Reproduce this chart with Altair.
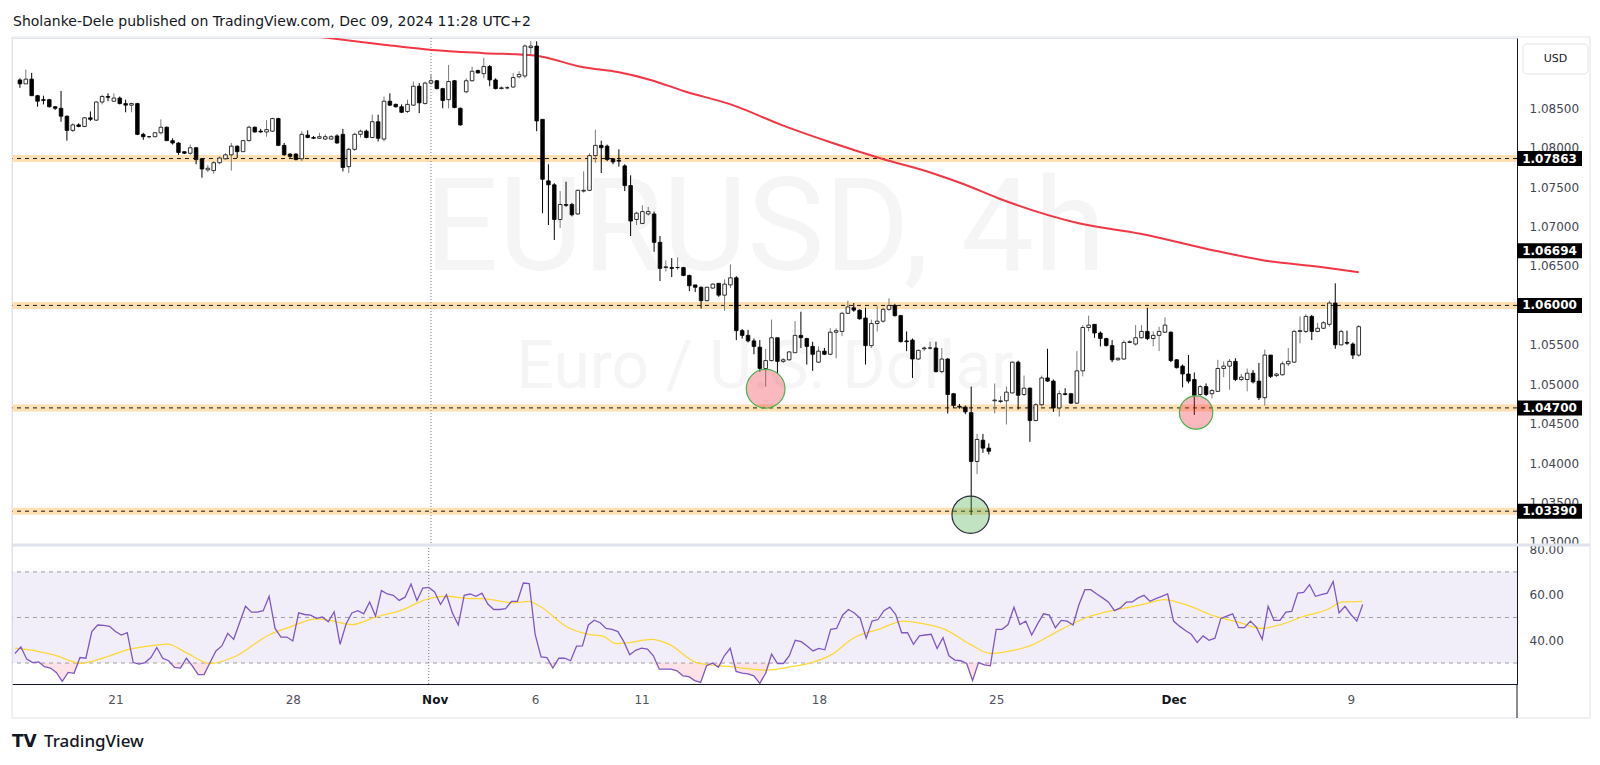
import altair as alt
import pandas as pd

# ---------------- data ----------------
opens = [1.0886, 1.0881, 1.0887, 1.0866, 1.0861, 1.0861, 1.0852, 1.0850, 1.0840, 1.0822,
         1.0829, 1.0827, 1.0838, 1.0835, 1.0858, 1.0865, 1.0859, 1.0863, 1.0856, 1.0854,
         1.0856, 1.0817, 1.0814, 1.0814, 1.0819, 1.0826, 1.0809, 1.0806, 1.0795, 1.0793,
         1.0800, 1.0786, 1.0772, 1.0771, 1.0781, 1.0786, 1.0791, 1.0802, 1.0795, 1.0809,
         1.0826, 1.0821, 1.0820, 1.0821, 1.0837, 1.0803, 1.0792, 1.0792, 1.0786, 1.0816,
         1.0813, 1.0812, 1.0811, 1.0811, 1.0815, 1.0817, 1.0776, 1.0798, 1.0817, 1.0821,
         1.0813, 1.0833, 1.0811, 1.0859, 1.0855, 1.0852, 1.0846, 1.0854, 1.0878, 1.0856,
         1.0882, 1.0885, 1.0875, 1.0861, 1.0885, 1.0850, 1.0871, 1.0885, 1.0898, 1.0894,
         1.0903, 1.0886, 1.0875, 1.0876, 1.0877, 1.0890, 1.0891, 1.0927, 1.0929, 1.0836,
         1.0758, 1.0753, 1.0709, 1.0728, 1.0728, 1.0716, 1.0745, 1.0746, 1.0790, 1.0803,
         1.0802, 1.0786, 1.0784, 1.0777, 1.0752, 1.0709, 1.0704, 1.0716, 1.0716, 1.0680,
         1.0648, 1.0648, 1.0648, 1.0648, 1.0638, 1.0626, 1.0623, 1.0606, 1.0622, 1.0628,
         1.0613, 1.0626, 1.0635, 1.0568, 1.0562, 1.0555, 1.0547, 1.0520, 1.0530, 1.0559,
         1.0529, 1.0531, 1.0540, 1.0562, 1.0558, 1.0548, 1.0528, 1.0542, 1.0538, 1.0566,
         1.0567, 1.0590, 1.0597, 1.0594, 1.0584, 1.0549, 1.0577, 1.0580, 1.0595, 1.0600,
         1.0587, 1.0555, 1.0556, 1.0532, 1.0545, 1.0546, 1.0546, 1.0516, 1.0532, 1.0488,
         1.0472, 1.0471, 1.0464, 1.0402, 1.0429, 1.0419, 1.0479, 1.0478, 1.0479, 1.0489,
         1.0528, 1.0487, 1.0495, 1.0454, 1.0474, 1.0508, 1.0504, 1.0470, 1.0488, 1.0488,
         1.0476, 1.0517, 1.0572, 1.0576, 1.0565, 1.0558, 1.0549, 1.0531, 1.0532, 1.0553,
         1.0551, 1.0559, 1.0567, 1.0558, 1.0562, 1.0566, 1.0566, 1.0531, 1.0523, 1.0513,
         1.0506, 1.0487, 1.0497, 1.0488, 1.0491, 1.0520, 1.0523, 1.0529, 1.0506, 1.0506,
         1.0514, 1.0504, 1.0483, 1.0537, 1.0511, 1.0512, 1.0526, 1.0528, 1.0567, 1.0567,
         1.0586, 1.0567, 1.0571, 1.0576, 1.0603, 1.0550, 1.0553, 1.0551, 1.0537]

highs = [1.0888, 1.0899, 1.0895, 1.0867, 1.0866, 1.0862, 1.0853, 1.0872, 1.0841, 1.0831,
         1.0831, 1.0839, 1.0846, 1.0859, 1.0867, 1.0869, 1.0869, 1.0865, 1.0861, 1.0857,
         1.0857, 1.0819, 1.0815, 1.0820, 1.0836, 1.0827, 1.0812, 1.0807, 1.0795, 1.0804,
         1.0801, 1.0787, 1.0778, 1.0783, 1.0789, 1.0793, 1.0806, 1.0803, 1.0810, 1.0828,
         1.0827, 1.0824, 1.0835, 1.0838, 1.0838, 1.0806, 1.0793, 1.0793, 1.0821, 1.0822,
         1.0815, 1.0819, 1.0817, 1.0816, 1.0817, 1.0824, 1.0800, 1.0819, 1.0823, 1.0823,
         1.0842, 1.0842, 1.0865, 1.0869, 1.0856, 1.0855, 1.0861, 1.0884, 1.0882, 1.0884,
         1.0893, 1.0886, 1.0876, 1.0905, 1.0886, 1.0851, 1.0888, 1.0903, 1.0899, 1.0914,
         1.0905, 1.0888, 1.0878, 1.0878, 1.0895, 1.0897, 1.0931, 1.0935, 1.0935, 1.0836,
         1.0779, 1.0755, 1.0745, 1.0757, 1.0730, 1.0747, 1.0770, 1.0793, 1.0823, 1.0809,
         1.0804, 1.0787, 1.0798, 1.0779, 1.0765, 1.0719, 1.0727, 1.0725, 1.0719, 1.0688,
         1.0657, 1.0660, 1.0661, 1.0649, 1.0639, 1.0626, 1.0624, 1.0624, 1.0628, 1.0628,
         1.0633, 1.0652, 1.0637, 1.0570, 1.0569, 1.0558, 1.0556, 1.0545, 1.0582, 1.0559,
         1.0533, 1.0542, 1.0580, 1.0592, 1.0559, 1.0554, 1.0548, 1.0546, 1.0571, 1.0571,
         1.0592, 1.0606, 1.0603, 1.0595, 1.0597, 1.0582, 1.0599, 1.0597, 1.0609, 1.0602,
         1.0588, 1.0567, 1.0558, 1.0544, 1.0548, 1.0554, 1.0554, 1.0546, 1.0533, 1.0489,
         1.0475, 1.0473, 1.0497, 1.0437, 1.0437, 1.0425, 1.0501, 1.0485, 1.0497, 1.0529,
         1.0530, 1.0511, 1.0496, 1.0476, 1.0511, 1.0545, 1.0506, 1.0492, 1.0495, 1.0489,
         1.0542, 1.0575, 1.0587, 1.0576, 1.0567, 1.0559, 1.0556, 1.0534, 1.0556, 1.0556,
         1.0575, 1.0575, 1.0597, 1.0567, 1.0573, 1.0585, 1.0567, 1.0532, 1.0525, 1.0537,
         1.0515, 1.0499, 1.0501, 1.0494, 1.0531, 1.0529, 1.0532, 1.0533, 1.0513, 1.0520,
         1.0518, 1.0527, 1.0544, 1.0537, 1.0514, 1.0529, 1.0546, 1.0569, 1.0586, 1.0589,
         1.0588, 1.0578, 1.0580, 1.0606, 1.0628, 1.0569, 1.0568, 1.0553, 1.0575]

lows = [1.0876, 1.0881, 1.0866, 1.0852, 1.0855, 1.0851, 1.0848, 1.0833, 1.0809, 1.0820,
        1.0826, 1.0826, 1.0834, 1.0834, 1.0855, 1.0859, 1.0858, 1.0855, 1.0845, 1.0845,
        1.0816, 1.0810, 1.0812, 1.0813, 1.0817, 1.0809, 1.0804, 1.0791, 1.0792, 1.0791,
        1.0779, 1.0762, 1.0769, 1.0767, 1.0779, 1.0785, 1.0771, 1.0787, 1.0795, 1.0808,
        1.0819, 1.0819, 1.0814, 1.0820, 1.0802, 1.0790, 1.0787, 1.0784, 1.0783, 1.0812,
        1.0811, 1.0811, 1.0810, 1.0810, 1.0805, 1.0770, 1.0768, 1.0796, 1.0813, 1.0812,
        1.0812, 1.0808, 1.0808, 1.0853, 1.0851, 1.0844, 1.0844, 1.0853, 1.0844, 1.0855,
        1.0880, 1.0874, 1.0850, 1.0850, 1.0850, 1.0828, 1.0869, 1.0884, 1.0894, 1.0888,
        1.0878, 1.0874, 1.0874, 1.0874, 1.0876, 1.0888, 1.0888, 1.0918, 1.0821, 1.0717,
        1.0702, 1.0683, 1.0698, 1.0725, 1.0713, 1.0715, 1.0743, 1.0745, 1.0781, 1.0768,
        1.0783, 1.0779, 1.0776, 1.0745, 1.0688, 1.0702, 1.0703, 1.0714, 1.0668, 1.0631,
        1.0643, 1.0636, 1.0645, 1.0637, 1.0618, 1.0617, 1.0596, 1.0605, 1.0621, 1.0611,
        1.0593, 1.0622, 1.0556, 1.0558, 1.0553, 1.0538, 1.0516, 1.0497, 1.0529, 1.0514,
        1.0527, 1.0530, 1.0540, 1.0546, 1.0525, 1.0517, 1.0527, 1.0537, 1.0537, 1.0533,
        1.0561, 1.0589, 1.0592, 1.0582, 1.0525, 1.0546, 1.0567, 1.0578, 1.0593, 1.0586,
        1.0553, 1.0542, 1.0508, 1.0531, 1.0542, 1.0544, 1.0515, 1.0514, 1.0463, 1.0470,
        1.0469, 1.0462, 1.0334, 1.0386, 1.0413, 1.0411, 1.0463, 1.0476, 1.0449, 1.0488,
        1.0468, 1.0485, 1.0427, 1.0453, 1.0472, 1.0503, 1.0465, 1.0459, 1.0486, 1.0475,
        1.0475, 1.0510, 1.0567, 1.0559, 1.0548, 1.0548, 1.0528, 1.0530, 1.0531, 1.0552,
        1.0549, 1.0558, 1.0556, 1.0548, 1.0542, 1.0565, 1.0528, 1.0520, 1.0496, 1.0501,
        1.0461, 1.0485, 1.0485, 1.0482, 1.0490, 1.0509, 1.0493, 1.0504, 1.0504, 1.0491,
        1.0501, 1.0480, 1.0473, 1.0508, 1.0509, 1.0511, 1.0523, 1.0527, 1.0552, 1.0565,
        1.0556, 1.0566, 1.0570, 1.0573, 1.0545, 1.0549, 1.0550, 1.0532, 1.0535]

closes = [1.0881, 1.0887, 1.0866, 1.0859, 1.0860, 1.0852, 1.0850, 1.0840, 1.0822, 1.0829,
          1.0827, 1.0838, 1.0836, 1.0858, 1.0865, 1.0864, 1.0863, 1.0856, 1.0854, 1.0856,
          1.0817, 1.0814, 1.0814, 1.0819, 1.0826, 1.0809, 1.0806, 1.0794, 1.0793, 1.0800,
          1.0785, 1.0773, 1.0774, 1.0781, 1.0787, 1.0791, 1.0802, 1.0795, 1.0809, 1.0826,
          1.0820, 1.0820, 1.0823, 1.0837, 1.0803, 1.0791, 1.0789, 1.0785, 1.0817, 1.0813,
          1.0812, 1.0814, 1.0814, 1.0814, 1.0806, 1.0775, 1.0798, 1.0817, 1.0821, 1.0813,
          1.0833, 1.0812, 1.0859, 1.0854, 1.0852, 1.0845, 1.0855, 1.0878, 1.0857, 1.0882,
          1.0885, 1.0875, 1.0860, 1.0884, 1.0851, 1.0829, 1.0885, 1.0897, 1.0895, 1.0903,
          1.0886, 1.0875, 1.0876, 1.0876, 1.0889, 1.0893, 1.0929, 1.0929, 1.0834, 1.0760,
          1.0753, 1.0709, 1.0728, 1.0727, 1.0715, 1.0746, 1.0746, 1.0790, 1.0803, 1.0800,
          1.0785, 1.0782, 1.0783, 1.0752, 1.0707, 1.0717, 1.0719, 1.0719, 1.0680, 1.0647,
          1.0649, 1.0647, 1.0648, 1.0638, 1.0625, 1.0623, 1.0606, 1.0623, 1.0627, 1.0613,
          1.0627, 1.0635, 1.0568, 1.0562, 1.0555, 1.0548, 1.0520, 1.0530, 1.0559, 1.0529,
          1.0531, 1.0541, 1.0562, 1.0559, 1.0548, 1.0538, 1.0542, 1.0538, 1.0566, 1.0568,
          1.0590, 1.0598, 1.0594, 1.0583, 1.0549, 1.0577, 1.0580, 1.0595, 1.0600, 1.0587,
          1.0554, 1.0554, 1.0532, 1.0543, 1.0546, 1.0546, 1.0516, 1.0532, 1.0487, 1.0473,
          1.0471, 1.0465, 1.0402, 1.0430, 1.0419, 1.0415, 1.0480, 1.0479, 1.0490, 1.0528,
          1.0486, 1.0495, 1.0454, 1.0474, 1.0508, 1.0504, 1.0470, 1.0488, 1.0487, 1.0476,
          1.0517, 1.0572, 1.0575, 1.0565, 1.0558, 1.0549, 1.0531, 1.0533, 1.0553, 1.0554,
          1.0559, 1.0567, 1.0558, 1.0562, 1.0567, 1.0575, 1.0530, 1.0521, 1.0513, 1.0504,
          1.0486, 1.0497, 1.0487, 1.0492, 1.0520, 1.0523, 1.0529, 1.0506, 1.0509, 1.0514,
          1.0503, 1.0483, 1.0537, 1.0510, 1.0513, 1.0526, 1.0529, 1.0567, 1.0568, 1.0586,
          1.0567, 1.0571, 1.0578, 1.0603, 1.0550, 1.0567, 1.0552, 1.0537, 1.0573]

rsi_values = [34.2, 37.1, 31.7, 30.2, 30.5, 28.4, 27.8, 25.9, 22.0, 25.9,
              25.5, 32.4, 32.1, 43.8, 46.7, 46.5, 46.1, 43.8, 42.3, 43.3,
              30.2, 29.5, 30.2, 32.4, 36.8, 32.1, 31.0, 28.1, 27.8, 32.1,
              28.8, 24.9, 24.9, 30.2, 35.3, 37.5, 43.0, 40.4, 47.7, 54.9,
              52.3, 52.3, 53.0, 59.3, 45.2, 41.4, 41.4, 39.7, 52.0, 51.3,
              51.0, 49.6, 50.2, 48.1, 52.5, 38.2, 47.0, 52.0, 53.0, 51.6,
              56.8, 50.6, 61.8, 60.3, 59.7, 57.5, 58.9, 64.7, 57.4, 62.9,
              63.2, 61.2, 55.7, 60.0, 52.0, 46.7, 59.7, 60.3, 59.3, 60.7,
              55.9, 53.5, 53.5, 53.9, 57.1, 57.1, 65.1, 64.9, 42.6, 32.7,
              32.4, 27.8, 32.1, 32.1, 31.0, 37.4, 37.5, 46.7, 48.8, 47.7,
              45.2, 44.8, 43.8, 39.4, 33.6, 35.6, 36.5, 36.1, 33.2, 27.3,
              27.3, 27.3, 26.6, 24.4, 24.0, 22.3, 21.5, 28.8, 30.0, 28.1,
              33.2, 36.5, 26.3, 25.6, 25.2, 24.4, 21.1, 25.5, 33.9, 29.8,
              29.8, 33.2, 40.0, 39.4, 37.5, 35.3, 36.4, 35.8, 44.8, 45.2,
              51.0, 53.5, 52.0, 49.6, 40.9, 48.4, 49.1, 53.0, 54.5, 51.3,
              43.3, 43.3, 38.2, 41.9, 42.3, 42.6, 36.4, 41.1, 33.2, 31.3,
              31.0, 29.8, 22.3, 30.2, 29.2, 28.8, 44.8, 44.8, 46.9, 54.5,
              46.9, 48.4, 42.3, 47.2, 51.6, 51.0, 45.5, 48.7, 48.4, 46.7,
              55.7, 62.2, 62.2, 60.3, 58.6, 56.7, 53.0, 54.2, 56.7, 56.8,
              58.6, 59.7, 57.1, 58.3, 59.3, 60.3, 48.4, 46.2, 44.3, 42.6,
              39.0, 41.9, 40.0, 40.9, 49.6, 50.6, 51.6, 45.5, 45.5, 48.4,
              45.8, 40.4, 54.9, 48.7, 48.7, 52.3, 52.7, 60.7, 61.0, 64.4,
              59.3, 60.0, 60.7, 65.8, 52.0, 54.9, 51.3, 48.4, 55.7]

# RSI-based moving average (yellow), read at sample positions (candle index, value)
ma_idx = [0, 3.5, 7, 11.1, 14.8, 19.4, 23.9, 25.8, 29.2, 33, 37.5, 42.8, 46.5, 51.1,
          53.3, 57.1, 60.9, 65.4, 70, 73, 76.8, 79, 84.3, 86.9, 88.8, 93.4, 97.1, 99.4,
          101.7, 103.9, 107.7, 110.7, 115.3, 121, 127.1, 131.4, 134.8, 138.3, 141.8,
          146.1, 150.4, 153.8, 157.3, 161.6, 165.1, 167.6, 172, 176.3, 181.5, 186.6,
          190.9, 194.4, 197.9, 203, 207.3, 210.8, 214.2, 217.7, 222, 224.6, 227.9]
ma_vals = [36.5, 35.3, 33.2, 29.9, 32.1, 36.1, 37.9, 38.3, 34.2, 29.8, 33.2, 42.1, 45.8, 49.4,
           48.7, 46.9, 50.1, 53.2, 58.3, 59.3, 58.3, 58.3, 56.4, 57.1, 54.9, 45.8, 42.6, 41.9,
           38.5, 39.0, 40.4, 38.2, 30.2, 28.4, 26.9, 28.4, 30.2, 33.9, 40.9,
           44.8, 48.4, 47.2, 44.8, 38.2, 34.2, 34.9, 37.9, 43.8, 50.2, 53.5,
           55.7, 57.8, 55.7, 50.6, 47.7, 45.2, 46.9, 50.2, 53.5, 56.8, 57.1]

# red moving average on price, read at sample positions
ema_idx = [40, 51.6, 61.6, 70.2, 79, 87.6, 96, 101.8, 107.4, 113, 121.4, 130, 138.4,
           146.8, 155.3, 161, 166.6, 180.5, 190.8, 203.8, 212.8, 221.2, 228]
ema_vals = [1.0952, 1.0940, 1.0931, 1.0924, 1.0920, 1.0917, 1.0902, 1.0896, 1.0886, 1.0872,
            1.0854, 1.0828, 1.0806, 1.0786, 1.0768, 1.0753, 1.0736, 1.0704, 1.0691, 1.0669,
            1.0656, 1.0649, 1.0642]

levels = [1.07863, 1.06000, 1.04700, 1.03390]
price_tags = [1.07863, 1.06694, 1.06000, 1.04700, 1.03390]
price_ticks = [1.030, 1.035, 1.040, 1.045, 1.050, 1.055, 1.060, 1.065, 1.070, 1.075, 1.080, 1.085]
rsi_ticks = [40, 60, 80]
rsi_bands = [70, 50, 30]

tick_idx = [17, 47, 71, 88, 106, 136, 166, 196, 226]
tick_lbl = ["21", "28", "Nov", "6", "11", "18", "25", "Dec", "9"]
month_lbls = ["Nov", "Dec"]
nov1_idx = [70]

red_circles_idx = [127.0]
red_circles_price = [1.04943]
red_circle2_idx = [200.3]
red_circle2_price = [1.04642]
green_circle_idx = [161.9]
green_circle_price = [1.03345]

title_text = "Sholanke-Dele published on TradingView.com, Dec 09, 2024 11:28 UTC+2"
wm_symbol = "EURUSD, 4h"
wm_name = "Euro / U.S. Dollar"

# ---------------- layout ----------------
W, H1, H2 = 1505, 507, 139
N = len(opens)
idx = list(range(N))

candles = pd.DataFrame({"i": idx, "open": opens, "high": highs, "low": lows, "close": closes})
rsi_df = pd.DataFrame({"i": idx, "rsi": rsi_values})
ma_df = pd.DataFrame({"i": ma_idx, "ma": ma_vals})
ema_df = pd.DataFrame({"i": ema_idx, "ema": ema_vals})
lev_df = pd.DataFrame({"level": levels})
tag_df = pd.DataFrame({"p": price_tags, "label": [f"{p:.5f}" for p in price_tags]})
one = pd.DataFrame({"t": ["USD"]})

xs = alt.Scale(domain=[-0.5, 254.1], nice=False, zero=False)
ys = alt.Scale(domain=[1.02961, 1.09392], nice=False, zero=False)
rs = alt.Scale(domain=[20.8, 81.8], nice=False, zero=False)

AX_FONT = "DejaVu Sans"
price_axis = alt.Axis(orient="right", values=price_ticks, format=".5f", title=None, grid=False,
                      ticks=False, labelPadding=12, labelFont=AX_FONT, labelFontSize=12,
                      labelColor="#434651", domainColor="#131722", domainWidth=1,
                      labelOverlap=False, labelBound=False, labelFlush=False)
rsi_axis = alt.Axis(orient="right", values=rsi_ticks, format=".2f", title=None, grid=False,
                    ticks=False, labelPadding=12, labelFont=AX_FONT, labelFontSize=12,
                    labelColor="#434651", domainColor="#131722", domainWidth=1,
                    labelOverlap=False, labelBound=False, labelFlush=False)

label_expr = " : ".join(f"datum.value == {k} ? '{l}'" for k, l in zip(tick_idx, tick_lbl)) + " : ''"
month_test = " || ".join(f"datum.value == {k}" for k, l in zip(tick_idx, tick_lbl) if l in month_lbls)
x_axis = alt.Axis(values=tick_idx, labelExpr=label_expr, title=None, grid=False, ticks=False,
                  labelPadding=10, labelFont=AX_FONT, labelFontSize=12,
                  labelColor={"condition": {"test": month_test, "value": "#131722"}, "value": "#50535E"},
                  labelFontWeight={"condition": {"test": month_test, "value": "bold"}, "value": "normal"},
                  domainColor="#131722", domainWidth=1, labelOverlap=False, labelBound=False,
                  labelFlush=False)

def XT(f):
    return alt.X(f, scale=xs, axis=None)

def YT(f):
    return alt.Y(f, scale=ys, axis=price_axis)

def XB(f):
    return alt.X(f, scale=xs, axis=x_axis)

def YB(f):
    return alt.Y(f, scale=rs, axis=rsi_axis)

# ---------------- price pane ----------------
wm1 = alt.Chart(pd.DataFrame({"i": [126.9], "p": [1.0694], "t": [wm_symbol]})).mark_text(
    font="Roboto", fontSize=130, color="#000000", opacity=0.035, align="center", baseline="middle"
).encode(x=XT("i:Q"), y=YT("p:Q"), text="t:N")
wm2 = alt.Chart(pd.DataFrame({"i": [126.9], "p": [1.0520], "t": [wm_name]})).mark_text(
    font="Roboto", fontSize=66, color="#000000", opacity=0.035, align="center", baseline="middle"
).encode(x=XT("i:Q"), y=YT("p:Q"), text="t:N")

bands = alt.Chart(lev_df).mark_rule(color="#FFE0B2", strokeWidth=7).encode(y=YT("level:Q"))
dashes = alt.Chart(lev_df).mark_rule(color="#131722", strokeWidth=1, strokeDash=[4, 4]).encode(y=YT("level:Q"))
vline_top = alt.Chart(pd.DataFrame({"i": nov1_idx})).mark_rule(
    color="#787B86", strokeWidth=1, strokeDash=[1, 2]).encode(x=XT("i:Q"))
ema = alt.Chart(ema_df).mark_line(color="#F23645", strokeWidth=2, clip=True, interpolate="monotone").encode(
    x=XT("i:Q"), y=YT("ema:Q"))
up = "datum.close >= datum.open"
wick = alt.Chart(candles).mark_rule(strokeWidth=1).encode(
    x=XT("i:Q"), y=YT("low:Q"), y2="high:Q",
    color=alt.condition(up, alt.value("#7a7a7a"), alt.value("#000000")))
body = alt.Chart(candles).mark_bar(width=3.6, stroke="#000000", strokeWidth=0.8).encode(
    x=XT("i:Q"), y=YT("open:Q"), y2="close:Q",
    fill=alt.condition(up, alt.value("#ffffff"), alt.value("#000000")))

c1 = alt.Chart(pd.DataFrame({"i": red_circles_idx, "p": red_circles_price})).mark_point(
    shape="circle", filled=True, size=1498, fill="#F23645", fillOpacity=0.35,
    stroke="#4CAF50", strokeWidth=1.2, strokeOpacity=1, opacity=1).encode(x=XT("i:Q"), y=YT("p:Q"))
c2 = alt.Chart(pd.DataFrame({"i": red_circle2_idx, "p": red_circle2_price})).mark_point(
    shape="circle", filled=True, size=1115, fill="#F23645", fillOpacity=0.35,
    stroke="#4CAF50", strokeWidth=1.2, strokeOpacity=1, opacity=1).encode(x=XT("i:Q"), y=YT("p:Q"))
c3 = alt.Chart(pd.DataFrame({"i": green_circle_idx, "p": green_circle_price})).mark_point(
    shape="circle", filled=True, size=1391, fill="#4CAF50", fillOpacity=0.35,
    stroke="#2a2e39", strokeWidth=1.2, strokeOpacity=1, opacity=1).encode(x=XT("i:Q"), y=YT("p:Q"))

tag_box = alt.Chart(tag_df).mark_point(
    shape="M-1,-0.23H1V0.23H-1Z", filled=True, size=4225, fill="#000000", opacity=1
).encode(x=alt.value(W + 32.5), y=YT("p:Q"))
tag_txt = alt.Chart(tag_df).mark_text(
    font=AX_FONT, fontSize=12, fontWeight="bold", color="#ffffff", align="center", baseline="middle"
).encode(x=alt.value(W + 32.5), y=YT("p:Q"), text="label:N")

usd_box = alt.Chart(one).mark_rect(fill="#ffffff", stroke="#E0E3EB", cornerRadius=4).encode(
    x=alt.value(W + 6), x2=alt.value(W + 71), y=alt.value(6), y2=alt.value(36))
usd_txt = alt.Chart(one).mark_text(font=AX_FONT, fontSize=11, color="#131722",
                                   align="center", baseline="middle").encode(
    x=alt.value(W + 38.5), y=alt.value(21), text="t:N")

top = alt.layer(wm1, wm2, bands, dashes, vline_top, ema, wick, body, c1, c2, c3,
                tag_box, tag_txt, usd_box, usd_txt).properties(width=W, height=H1)

# ---------------- RSI pane ----------------
band = alt.Chart(pd.DataFrame({"hi": [70], "lo": [30]})).mark_rect(color="#7E57C2", opacity=0.1).encode(
    x=alt.value(0), x2=alt.value(W), y=YB("hi:Q"), y2="lo:Q")
rdash = alt.Chart(pd.DataFrame({"v": rsi_bands})).mark_rule(
    color="#787B86", strokeDash=[4, 4], strokeWidth=1, opacity=0.7).encode(y=YB("v:Q"))
os_area = alt.Chart(rsi_df).transform_calculate(lo="min(datum.rsi, 30)", base="30").mark_area(
    color="#F23645", opacity=0.14).encode(x=XB("i:Q"), y=YB("lo:Q"), y2="base:Q")
ma_line = alt.Chart(ma_df).mark_line(color="#FDD835", strokeWidth=1.3, interpolate="monotone").encode(
    x=XB("i:Q"), y=YB("ma:Q"))
rsi_line = alt.Chart(rsi_df).mark_line(color="#7E57C2", strokeWidth=1.3).encode(
    x=XB("i:Q"), y=YB("rsi:Q"))
vline_bot = alt.Chart(pd.DataFrame({"i": nov1_idx})).mark_rule(
    color="#787B86", strokeWidth=1, strokeDash=[1, 2]).encode(x=XB("i:Q"))

frame = alt.Chart(one).mark_rect(fill="transparent", stroke="#E0E3EB", strokeWidth=1).encode(
    x=alt.value(0), x2=alt.value(W + 73), y=alt.value(-H1 - 1), y2=alt.value(H2 + 34))
sep = alt.Chart(one).mark_rule(color="#E0E3EB", strokeWidth=3).encode(
    x=alt.value(0), x2=alt.value(W + 73), y=alt.value(0))
vdate = alt.Chart(one).mark_rule(color="#131722", strokeWidth=1).encode(
    x=alt.value(W), y=alt.value(H2), y2=alt.value(H2 + 34))
logo = alt.Chart(pd.DataFrame({"t": ["TV"]})).mark_text(
    font="DejaVu Sans", fontSize=17, fontWeight=900, color="#131722", align="left", baseline="middle"
).encode(x=alt.value(0), y=alt.value(H2 + 58), text="t:N")
brand = alt.Chart(pd.DataFrame({"t": ["TradingView"]})).mark_text(
    font="Noto Sans", fontSize=17, fontWeight=500, color="#131722", align="left", baseline="middle"
).encode(x=alt.value(32), y=alt.value(H2 + 58), text="t:N")

bottom = alt.layer(band, rdash, os_area, ma_line, rsi_line, vline_bot, sep, frame, vdate,
                   logo, brand).properties(width=W, height=H2)

chart = alt.vconcat(top, bottom, spacing=0, bounds="flush").properties(
    title=alt.TitleParams(title_text, anchor="start", font="DejaVu Sans", fontSize=14,
                          fontWeight="normal", color="#131722", offset=7, dx=5),
    padding={"left": 0, "top": 7, "right": 0, "bottom": 0},
).configure_view(stroke="#E0E3EB")

chart.save("out.html", embed_options={"renderer": "svg", "actions": False})
